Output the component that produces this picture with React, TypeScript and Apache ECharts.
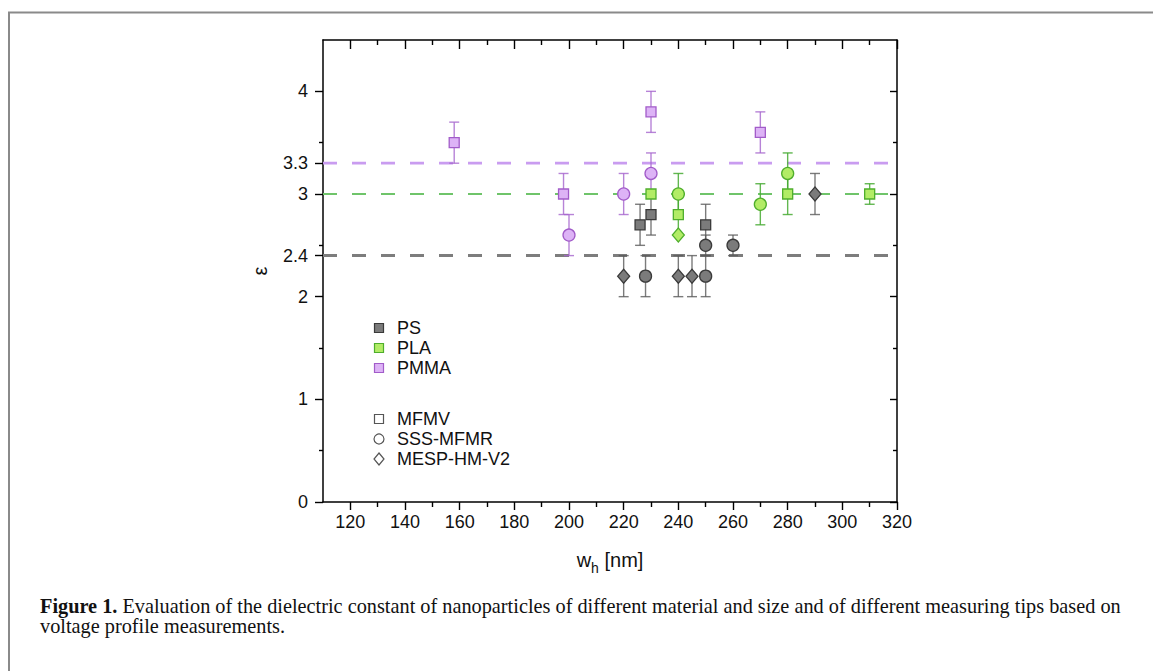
import React, { useEffect, useRef } from 'react';
import * as echarts from 'echarts';

const SANS = 'Liberation Sans, Arial, sans-serif';
const SERIF = 'Liberation Serif, Times New Roman, serif';

// axis ranges and ticks
const xMin = 110;
const xMax = 320;
const yMin = 0;
const yMax = 4.5;
const xMajorTicks = [120, 140, 160, 180, 200, 220, 240, 260, 280, 300, 320];
const xMinorTicks = [130, 150, 170, 190, 210, 230, 250, 270, 290, 310];
const yLabelValues = [0, 1, 2, 2.4, 3, 3.3, 4];
const yMajorTicks = [0, 1, 2, 3, 4];
const yMinorTicks = [0.5, 1.5, 2.5, 3.5];

// reference (bulk) values
const refPS = 2.4;
const refPLA = 3.0;
const refPMMA = 3.3;

// [w_h (nm), epsilon, error]
const psMFMV = [[226, 2.7, 0.2], [230, 2.8, 0.2], [250, 2.7, 0.2]];
const psSSS = [[228, 2.2, 0.2], [250, 2.5, 0.1], [250, 2.2, 0.2], [260, 2.5, 0.1]];
const psMESP = [[220, 2.2, 0.2], [240, 2.2, 0.2], [245, 2.2, 0.2], [290, 3.0, 0.2]];
const plaMFMV = [[230, 3.0, 0], [240, 2.8, 0.2], [280, 3.0, 0.2], [310, 3.0, 0.1]];
const plaSSS = [[240, 3.0, 0.2], [270, 2.9, 0.2], [280, 3.2, 0.2]];
const plaMESP = [[240, 2.6, 0]];
const pmmaMFMV = [[158, 3.5, 0.2], [198, 3.0, 0.2], [230, 3.8, 0.2], [270, 3.6, 0.2]];
const pmmaSSS = [[200, 2.6, 0.2], [220, 3.0, 0.2], [230, 3.2, 0.2]];

const materials = ['PS', 'PLA', 'PMMA'];
const tips = ['MFMV', 'SSS-MFMR', 'MESP-HM-V2'];

const COL = {
  PS: { fill: '#7b7b7b', stroke: '#3a3a3a', err: 'rgba(90,90,90,0.8)', line: '#7d7d7d' },
  PLA: { fill: '#b2ec66', stroke: '#4fae2c', err: 'rgba(70,170,50,0.85)', line: '#6fc46a' },
  PMMA: { fill: '#ddb3f6', stroke: '#a25cc9', err: 'rgba(165,100,205,0.8)', line: '#c99cf0' },
};

const SYM: Record<string, { symbol: string; size: number | number[] }> = {
  MFMV: { symbol: 'rect', size: 10 },
  'SSS-MFMR': { symbol: 'circle', size: 12 },
  'MESP-HM-V2': { symbol: 'diamond', size: [12, 14] },
};

const groups = [
  { mat: 'PS', tip: 'MFMV', data: psMFMV },
  { mat: 'PS', tip: 'SSS-MFMR', data: psSSS },
  { mat: 'PS', tip: 'MESP-HM-V2', data: psMESP },
  { mat: 'PLA', tip: 'MFMV', data: plaMFMV },
  { mat: 'PLA', tip: 'SSS-MFMR', data: plaSSS },
  { mat: 'PLA', tip: 'MESP-HM-V2', data: plaMESP },
  { mat: 'PMMA', tip: 'MFMV', data: pmmaMFMV },
  { mat: 'PMMA', tip: 'SSS-MFMR', data: pmmaSSS },
];

function buildOption() {
  const tickStyle = { color: '#000', width: 1.4 };
  const baseX = { type: 'value', min: xMin, max: xMax, splitLine: { show: false } };
  const baseY = { type: 'value', min: yMin, max: yMax, splitLine: { show: false } };

  const xAxis = [
    {
      ...baseX,
      position: 'bottom',
      axisLine: { show: true, onZero: false, lineStyle: { color: '#000', width: 1.5 } },
      axisTick: { show: true, customValues: xMajorTicks, length: 8, lineStyle: tickStyle },
      axisLabel: { show: true, customValues: xMajorTicks, fontSize: 18, margin: 11, color: '#111', fontFamily: SANS },
      name: '{n|w}{s|h}{n| [nm]}',
      nameLocation: 'middle',
      nameGap: 43,
      nameTextStyle: {
        fontFamily: SANS,
        fontSize: 20,
        color: '#111',
        rich: {
          n: { fontSize: 20, fontFamily: SANS, color: '#111', lineHeight: 30, verticalAlign: 'middle' },
          s: { fontSize: 14, fontFamily: SANS, color: '#111', lineHeight: 14, verticalAlign: 'bottom' },
        },
      },
    },
    {
      ...baseX,
      position: 'bottom',
      axisLine: { show: false, onZero: false },
      axisTick: { show: true, customValues: xMinorTicks, length: 5, lineStyle: tickStyle },
      axisLabel: { show: false },
    },
    {
      ...baseX,
      position: 'top',
      axisLine: { show: true, onZero: false, lineStyle: { color: '#000', width: 1.5 } },
      axisTick: { show: true, inside: true, customValues: xMajorTicks, length: 9, lineStyle: tickStyle },
      axisLabel: { show: false },
    },
    {
      ...baseX,
      position: 'top',
      axisLine: { show: false, onZero: false },
      axisTick: { show: true, inside: true, customValues: xMinorTicks, length: 5, lineStyle: tickStyle },
      axisLabel: { show: false },
    },
  ];

  const yAxis = [
    {
      ...baseY,
      position: 'left',
      axisLine: { show: true, onZero: false, lineStyle: { color: '#000', width: 1.5 } },
      axisTick: { show: true, customValues: yLabelValues, length: 8, lineStyle: tickStyle },
      axisLabel: { show: true, customValues: yLabelValues, fontSize: 18, margin: 15, color: '#111', fontFamily: SANS },
      name: 'ε',
      nameLocation: 'middle',
      nameGap: 53,
      nameTextStyle: { fontFamily: SANS, fontSize: 20, color: '#111' },
    },
    {
      ...baseY,
      position: 'left',
      axisLine: { show: false, onZero: false },
      axisTick: { show: true, customValues: yMinorTicks, length: 4, lineStyle: tickStyle },
      axisLabel: { show: false },
    },
    {
      ...baseY,
      position: 'right',
      axisLine: { show: true, onZero: false, lineStyle: { color: '#000', width: 1.5 } },
      axisTick: { show: true, inside: true, customValues: yMajorTicks, length: 7, lineStyle: tickStyle },
      axisLabel: { show: false },
    },
    {
      ...baseY,
      position: 'right',
      axisLine: { show: false, onZero: false },
      axisTick: { show: true, inside: true, customValues: yMinorTicks, length: 4, lineStyle: tickStyle },
      axisLabel: { show: false },
    },
  ];

  const series: any[] = [];

  const refs = [
    { v: refPS, c: COL.PS.line, w: 3 },
    { v: refPLA, c: COL.PLA.line, w: 2.2 },
    { v: refPMMA, c: COL.PMMA.line, w: 2.8 },
  ];
  refs.forEach((r, i) => {
    series.push({
      type: 'line',
      name: 'ref' + i,
      xAxisIndex: 0,
      yAxisIndex: 0,
      data: [[xMin, r.v], [xMax, r.v]],
      showSymbol: false,
      symbol: 'none',
      silent: true,
      z: 1,
      lineStyle: { color: r.c, width: r.w, type: [14, 15] },
    });
  });

  groups.forEach((g) => {
    const c = (COL as any)[g.mat];
    series.push({
      type: 'custom',
      name: g.mat + ' ' + g.tip + ' err',
      xAxisIndex: 0,
      yAxisIndex: 0,
      z: 2,
      silent: true,
      data: g.data,
      encode: { x: 0, y: 1 },
      renderItem: (params: any, api: any) => {
        const x = api.value(0);
        const y = api.value(1);
        const e = api.value(2);
        if (!e) return null;
        const top = api.coord([x, y + e]);
        const bot = api.coord([x, y - e]);
        const half = 5;
        const st = { stroke: c.err, lineWidth: 1.4 };
        return {
          type: 'group',
          children: [
            { type: 'line', shape: { x1: top[0], y1: top[1], x2: bot[0], y2: bot[1] }, style: st },
            { type: 'line', shape: { x1: top[0] - half, y1: top[1], x2: top[0] + half, y2: top[1] }, style: st },
            { type: 'line', shape: { x1: bot[0] - half, y1: bot[1], x2: bot[0] + half, y2: bot[1] }, style: st },
          ],
        };
      },
    });
  });

  groups.forEach((g) => {
    const c = (COL as any)[g.mat];
    const s = SYM[g.tip];
    series.push({
      type: 'scatter',
      name: g.mat + ' ' + g.tip,
      xAxisIndex: 0,
      yAxisIndex: 0,
      z: 3,
      data: g.data.map((d) => [d[0], d[1]]),
      symbol: s.symbol,
      symbolSize: s.size,
      itemStyle: { color: c.fill, borderColor: c.stroke, borderWidth: 1.3, opacity: 1 },
    });
  });

  // legend drawn as graphic elements
  const lgX = 379;
  const lgTextX = 397;
  const matRows = [328, 348, 368];
  const tipRows = [419, 439, 459];
  const legendChildren: any[] = [];
  materials.forEach((m, i) => {
    const c = (COL as any)[m];
    legendChildren.push({
      type: 'rect',
      shape: { x: lgX - 4.5, y: matRows[i] - 4.5, width: 9, height: 9 },
      style: { fill: c.fill, stroke: c.stroke, lineWidth: 1.2 },
    });
    legendChildren.push({
      type: 'text',
      x: lgTextX,
      y: matRows[i],
      style: { text: m, fontFamily: SANS, fontSize: 18, fill: '#111', verticalAlign: 'middle', align: 'left' },
    });
  });
  const hollow = { fill: '#fff', stroke: '#555', lineWidth: 1.2 };
  legendChildren.push({ type: 'rect', shape: { x: lgX - 4.5, y: tipRows[0] - 4.5, width: 9, height: 9 }, style: hollow });
  legendChildren.push({ type: 'circle', shape: { cx: lgX, cy: tipRows[1], r: 5 }, style: hollow });
  legendChildren.push({
    type: 'polygon',
    shape: { points: [[lgX, tipRows[2] - 6], [lgX + 5, tipRows[2]], [lgX, tipRows[2] + 6], [lgX - 5, tipRows[2]]] },
    style: hollow,
  });
  tips.forEach((t, i) => {
    legendChildren.push({
      type: 'text',
      x: lgTextX,
      y: tipRows[i],
      style: { text: t, fontFamily: SANS, fontSize: 18, fill: '#111', verticalAlign: 'middle', align: 'left' },
    });
  });

  const graphic = [
    {
      type: 'polyline',
      shape: { points: [[9, 671], [9, 12.5], [1153, 12.5]] },
      style: { stroke: '#8a8a8a', lineWidth: 2, fill: 'none' },
      z: 0,
    },
    { type: 'group', children: legendChildren, z: 10 },
    {
      type: 'text',
      x: 40,
      y: 596,
      style: {
        text:
          '{b|Figure 1.} Evaluation of the dielectric constant of nanoparticles of different material and size and of different measuring tips based on\nvoltage profile measurements.',
        fontFamily: SERIF,
        fontSize: 20.3,
        lineHeight: 20,
        fill: '#111',
        rich: {
          b: { fontFamily: SERIF, fontSize: 20.3, fontWeight: 'bold', lineHeight: 20, fill: '#111' },
        },
      },
    },
  ];

  return {
    animation: false,
    backgroundColor: '#fff',
    grid: { left: 323, right: 1153 - 897, top: 40, bottom: 671 - 502, containLabel: false },
    xAxis,
    yAxis,
    series,
    graphic,
  };
}

export default function App() {
  const ref = useRef<HTMLDivElement>(null);
  useEffect(() => {
    if (!ref.current) return;
    const chart = echarts.init(ref.current, undefined, { renderer: 'svg' });
    chart.setOption(buildOption() as any);
    return () => chart.dispose();
  }, []);
  return (
    <div
      ref={ref}
      style={{ position: 'absolute', left: 0, top: 0, width: 1153, height: 671, background: '#fff' }}
    />
  );
}
